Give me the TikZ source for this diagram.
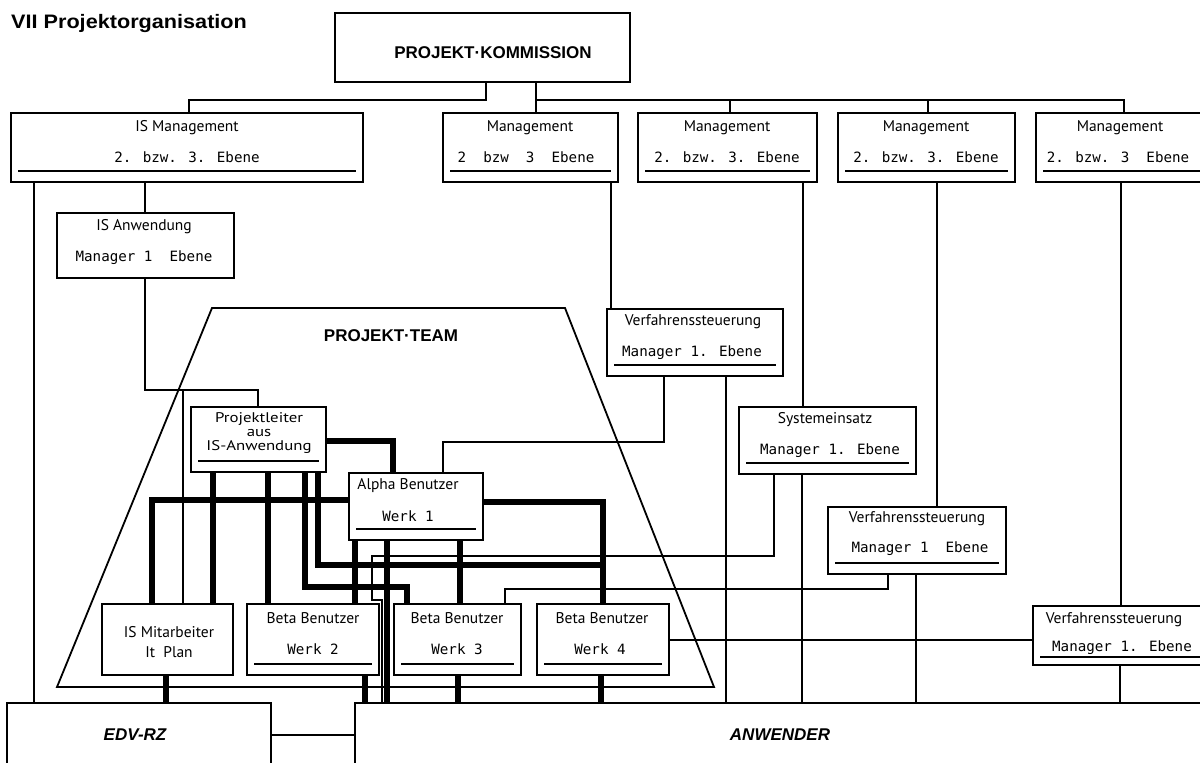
\documentclass[tikz,border=0pt]{standalone}
\usepackage{graphicx}
\usepackage{fontspec}
\newfontfamily\headfont{Liberation Sans}
\newfontfamily\boxsans{PT Sans}
\newfontfamily\boxmono{DejaVu Sans Mono}
\usetikzlibrary{calc}

\tikzset{
  orgbox/.style={draw, line width=2.2pt, inner sep=0pt, outer sep=0pt},
  thinc/.style={line width=1.8pt},
  thickc/.style={line width=6pt},
  uline/.style={line width=1.8pt},
  teamline/.style={line width=1.8pt, line join=miter},
  sans/.style={inner sep=0pt, font=\boxsans\fontsize{15.5}{17}\selectfont},
  smallsans/.style={inner sep=0pt, font=\boxsans\fontsize{14}{15}\selectfont},
  mono/.style={inner sep=0pt, font=\boxmono\fontsize{14.2}{16}\selectfont},
  heading/.style={inner sep=0pt, font=\headfont\bfseries\fontsize{17}{20}\selectfont},
  bigital/.style={inner sep=0pt, font=\headfont\bfseries\itshape\fontsize{17}{20}\selectfont}
}

% box from (x1,y1) to (x2,y2), y counted downwards
\newcommand\mkbox[5]{\node[orgbox, anchor=north west,
  minimum width={#4pt-#2pt}, minimum height={#5pt-#3pt}] (#1) at (#2,#3) {};}
% underline inside a box, #2 = height above the bottom edge
\newcommand\ulin[2]{\draw[uline] ([xshift=7pt,yshift=#2pt]#1.south west) -- ([xshift=-7pt,yshift=#2pt]#1.south east);}
% slightly widened lettering
\newcommand\wide[1]{\scalebox{1.2}[1]{#1}}

\begin{document}
\begin{tikzpicture}[x=1pt, y=-1pt]
\useasboundingbox (0,0) rectangle (1200,763);
\clip (0,0) rectangle (1200,763);
\fill[white] (0,0) rectangle (1200,763);

% title
\node[anchor=west, inner sep=0pt] (title) at (11,23)
  {\headfont\bfseries\fontsize{19.5}{22}\selectfont\scalebox{1.11}[1]{VII Projektorganisation}};

% project team area
\draw[teamline] (212,308) -- (565,308) -- (714,687) -- (57,687) -- cycle;
\node[heading] (teamlabel) at (391,336) {PROJEKT·TEAM};

% boxes
\mkbox{pk}{335}{13}{630}{82}
\mkbox{ism}{11}{113}{363}{182}
\mkbox{m1}{443}{113}{618}{182}
\mkbox{m2}{638}{113}{817}{182}
\mkbox{m3}{838}{113}{1015}{182}
\mkbox{m4}{1036}{113}{1215}{182}
\mkbox{isa}{57}{213}{234}{278}
\mkbox{vs1}{607}{309}{783}{376}
\mkbox{se}{739}{407}{916}{474}
\mkbox{vs2}{828}{507}{1006}{574}
\mkbox{vs3}{1033}{606}{1215}{665}
\mkbox{pl}{191}{407}{326}{472}
\mkbox{ab}{349}{473}{483}{540}
\mkbox{ismit}{102}{604}{233}{675}
\mkbox{bb2}{247}{604}{379}{675}
\mkbox{bb3}{394}{604}{521}{675}
\mkbox{bb4}{537}{604}{669}{675}
\mkbox{edv}{7}{703}{271}{790}
\mkbox{anw}{355}{703}{1215}{790}

% underlines
\ulin{ism}{11}
\ulin{m1}{11}
\ulin{m2}{11}
\ulin{m3}{11}
\ulin{m4}{11}
\ulin{vs1}{11}
\ulin{se}{11}
\ulin{vs2}{11}
\ulin{vs3}{8}
\ulin{pl}{11}
\ulin{ab}{11}
\ulin{bb2}{11}
\ulin{bb3}{11}
\ulin{bb4}{11}

% labels
\node[heading] (pkt) at (493,53) {PROJEKT·KOMMISSION};
\node[sans] (ismt) at (187,128) {IS Management};
\node[mono] (ismb) at (187,157) {2. bzw. 3. Ebene};
\node[sans] (m1t) at (530,128) {Management};
\node[mono] (m1b) at (526,157) {2\ \ bzw\ \ 3\ \ Ebene};
\node[sans] (m2t) at (727,128) {Management};
\node[mono] (m2b) at (727,157) {2. bzw. 3. Ebene};
\node[sans] (m3t) at (926,128) {Management};
\node[mono] (m3b) at (926,157) {2. bzw. 3. Ebene};
\node[sans] (m4t) at (1120,128) {Management};
\node[mono] (m4b) at (1118,157) {2. bzw. 3\ \ Ebene};
\node[sans] (isat) at (144,227) {IS Anwendung};
\node[mono] (isab) at (144,258) {Manager 1\ \ Ebene};
\node[sans] (vs1t) at (693,322) {Verfahrenssteuerung};
\node[mono] (vs1b) at (692,353) {Manager 1. Ebene};
\node[sans] (set) at (825,420) {Systemeinsatz};
\node[mono] (seb) at (830,451) {Manager 1. Ebene};
\node[sans] (vs2t) at (917,519) {Verfahrenssteuerung};
\node[mono] (vs2b) at (920,549) {Manager 1\ \ Ebene};
\node[sans] (vs3t) at (1114,620) {Verfahrenssteuerung};
\node[mono] (vs3b) at (1122,648) {Manager 1. Ebene};
\node[smallsans] (plt1) at (259,419) {\wide{Projektleiter}};
\node[smallsans] (plt2) at (259,433) {\wide{aus}};
\node[smallsans] (plt3) at (259,447) {\wide{IS-Anwendung}};
\node[sans] (abt) at (408,486) {Alpha Benutzer};
\node[mono] (abb) at (408,516) {Werk 1};
\node[sans] (ismitt) at (169,632) {IS Mitarbeiter};
\node[sans] (ismitb) at (169,652) {It\ \ Plan};
\node[sans] (bb2t) at (313,618) {Beta Benutzer};
\node[mono] (bb2b) at (313,649) {Werk 2};
\node[sans] (bb3t) at (457,618) {Beta Benutzer};
\node[mono] (bb3b) at (457,649) {Werk 3};
\node[sans] (bb4t) at (602,618) {Beta Benutzer};
\node[mono] (bb4b) at (600,649) {Werk 4};
\node[bigital] (edvt) at (135,735) {EDV-RZ};
\node[bigital] (anwt) at (780,735) {ANWENDER};

% thin reporting lines
\draw[thinc] (486,0 |- pk.south) |- (189,100) -- (189,0 |- ism.north);
\draw[thinc] (536,0 |- pk.south) -- (536,0 |- m1.north);
\draw[thinc] (536,0 |- pk.south) |- (730,100) -- (730,0 |- m2.north);
\draw[thinc] (536,0 |- pk.south) |- (928,100) -- (928,0 |- m3.north);
\draw[thinc] (536,0 |- pk.south) |- (1124,100) -- (1124,0 |- m4.north);
\draw[thinc] (34,0 |- ism.south) -- (34,0 |- edv.north);
\draw[thinc] (145,0 |- ism.south) -- (145,0 |- isa.north);
\draw[thinc] (145,0 |- isa.south) |- (258,390) -- (258,0 |- pl.north);
\draw[thinc] (145,0 |- isa.south) |- (183,390) -- (183,0 |- ismit.north);
\draw[thinc] (611,0 |- m1.south) -- (611,0 |- vs1.north);
\draw[thinc] (803,0 |- m2.south) -- (803,0 |- se.north);
\draw[thinc] (937,0 |- m3.south) -- (937,0 |- vs2.north);
\draw[thinc] (1121,0 |- m4.south) -- (1121,0 |- vs3.north);
\draw[thinc] (664,0 |- vs1.south) |- (443,442) -- (443,0 |- ab.north);
\draw[thinc] (726,0 |- vs1.south) -- (726,0 |- anw.north);
\draw[thinc] (802,0 |- se.south) -- (802,0 |- anw.north);
\draw[thinc] (774,0 |- se.south) |- (372,556) |- (382,600) -- (382,0 |- anw.north);
\draw[thinc] (888,0 |- vs2.south) |- (505,589) -- (505,0 |- bb3.north);
\draw[thinc] (916,0 |- vs2.south) -- (916,0 |- anw.north);
\draw[thinc] (1120,0 |- vs3.south) -- (1120,0 |- anw.north);
\draw[thinc] (bb4.east |- 0,640) -- (vs3.west |- 0,640);
\draw[thinc] (edv.east |- 0,735) -- (anw.west |- 0,735);

% heavy project team links
\draw[thickc] (ab.west |- 0,500) -| (152,0 |- ismit.north);
\draw[thickc] (213,0 |- pl.south) -- (213,0 |- ismit.north);
\draw[thickc] (268,0 |- pl.south) -- (268,0 |- bb2.north);
\draw[thickc] (305,0 |- pl.south) |- (407,587) -- (407,0 |- bb3.north);
\draw[thickc] (318,0 |- pl.south) |- (603,565) -- (603,0 |- bb4.north);
\draw[thickc] (pl.east |- 0,441) -| (393,0 |- ab.north);
\draw[thickc] (ab.east |- 0,502) -| (603,0 |- bb4.north);
\draw[thickc] (355,0 |- ab.south) -- (355,0 |- bb2.north);
\draw[thickc] (387,0 |- ab.south) -- (387,0 |- anw.north);
\draw[thickc] (460,0 |- ab.south) -- (460,0 |- bb3.north);
\draw[thickc] (166,0 |- ismit.south) -- (166,0 |- edv.north);
\draw[thickc] (365,0 |- bb2.south) -- (365,0 |- anw.north);
\draw[thickc] (458,0 |- bb3.south) -- (458,0 |- anw.north);
\draw[thickc] (601,0 |- bb4.south) -- (601,0 |- anw.north);
\end{tikzpicture}
\end{document}
